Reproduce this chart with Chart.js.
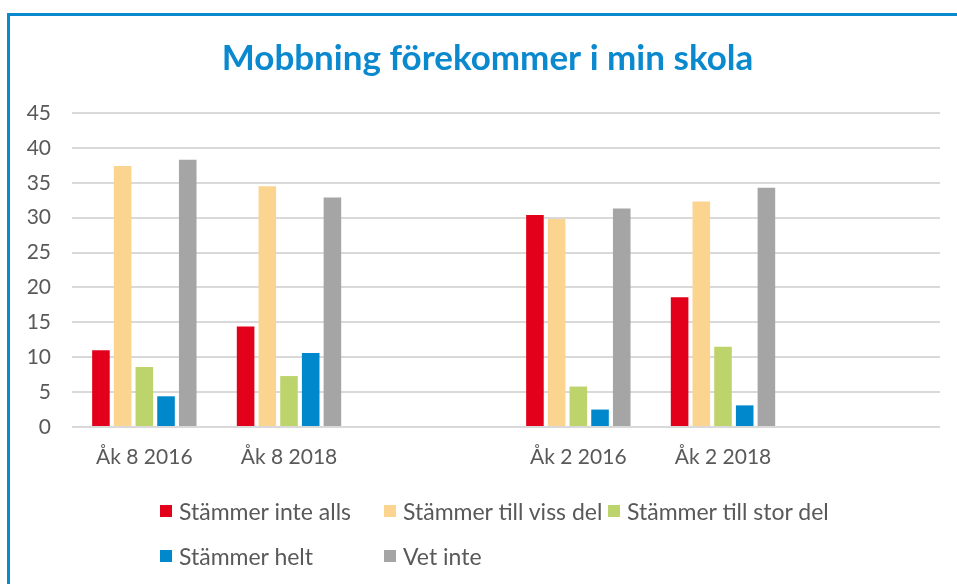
<!DOCTYPE html>
<html>
<head>
<meta charset="utf-8">
<script src="https://cdn.jsdelivr.net/npm/chart.js@4/dist/chart.umd.min.js"></script>
<style>
  html, body { margin: 0; padding: 0; background: #fff; width: 957px; height: 584px; overflow: hidden; position: relative; }
  #frame { position: absolute; left: 7px; top: 13px; width: 1000px; height: 1000px; border-left: 3px solid #0b89cf; border-top: 3px solid #0b89cf; box-sizing: border-box; }
  #wrap { position: absolute; left: 9px; top: 0; width: 957px; height: 477px; }
  #legend { position: absolute; left: 0; top: 0; width: 957px; height: 584px; pointer-events: none; }
  .li { position: absolute; display: flex; align-items: center; font-family: Lato, "Open Sans", sans-serif; font-size: 23px; color: #595959; white-space: nowrap; }
  .lb { width: 12px; height: 12px; margin-right: 7px; }
</style>
</head>
<body>
<div id="frame"></div>
<div id="wrap"><canvas id="c"></canvas></div>
<div id="legend"></div>
<script>
const titleText = 'Mobbning förekommer i min skola';
const categories = ['Åk 8 2016', 'Åk 8 2018', '', 'Åk 2 2016', 'Åk 2 2018', ''];
const seriesNames = ['Stämmer inte alls', 'Stämmer till viss del', 'Stämmer till stor del', 'Stämmer helt', 'Vet inte'];
const stammerInteAlls    = [11.0, 14.4, null, 30.4, 18.6, null];
const stammerTillVissDel = [37.4, 34.5, null, 29.8, 32.3, null];
const stammerTillStorDel = [8.6, 7.3, null, 5.8, 11.5, null];
const stammerHelt        = [4.4, 10.6, null, 2.5, 3.1, null];
const vetInte            = [38.3, 32.9, null, 31.3, 34.3, null];
const yMin = 0, yMax = 45, yStep = 5;
const seriesColors = ['#e2001a', '#fbd490', '#bdd36c', '#0088cc', '#a5a5a5'];

const seriesValues = [stammerInteAlls, stammerTillVissDel, stammerTillStorDel, stammerHelt, vetInte];
const datasets = seriesNames.map((name, i) => ({
  label: name,
  data: seriesValues[i],
  backgroundColor: seriesColors[i],
  borderWidth: 0,
  categoryPercentage: 0.75,
  barPercentage: 0.81
}));

const chart = new Chart(document.getElementById('c'), {
  type: 'bar',
  data: { labels: categories, datasets },
  options: {
    responsive: true,
    maintainAspectRatio: false,
    animation: false,
    layout: { padding: { left: 8, right: 8, top: 0, bottom: 0 } },
    plugins: {
      legend: { display: false },
      tooltip: { enabled: false },
      title: {
        display: true,
        text: titleText,
        color: '#0b89cf',
        font: { family: 'Lato, "Open Sans", sans-serif', size: 35, weight: 'bold' },
        padding: { top: 38, bottom: 33 }
      }
    },
    scales: {
      x: {
        afterFit: (s) => { s.height = 50; },
        grid: { display: false, drawTicks: false },
        border: { display: false },
        ticks: { color: '#595959', font: { family: 'Lato, "Open Sans", sans-serif', size: 21 }, padding: 18, maxRotation: 0, autoSkip: false }
      },
      y: {
        min: yMin, max: yMax,
        afterFit: (s) => { s.width = 55; },
        grid: { color: '#d9d9d9', lineWidth: 2, drawTicks: false },
        border: { display: false },
        ticks: { stepSize: yStep, color: '#595959', font: { family: 'Lato, "Open Sans", sans-serif', size: 21 }, padding: 21 }
      },
      spacer: {
        type: 'linear',
        position: 'right',
        afterFit: (s) => { s.width = 18; },
        grid: { display: false, drawTicks: false },
        border: { display: false },
        ticks: { display: false }
      }
    }
  }
});

const legendEl = document.getElementById('legend');
chart.data.datasets.forEach((ds, i) => {
  const col = i % 3, row = Math.floor(i / 3);
  const item = document.createElement('div');
  item.className = 'li';
  item.style.left = (160 + col * 224) + 'px';
  item.style.top = (498 + row * 45) + 'px';
  item.style.height = '26px';
  const box = document.createElement('span');
  box.className = 'lb';
  box.style.background = ds.backgroundColor;
  const txt = document.createElement('span');
  txt.textContent = ds.label;
  item.appendChild(box);
  item.appendChild(txt);
  legendEl.appendChild(item);
});
</script>
</body>
</html>
